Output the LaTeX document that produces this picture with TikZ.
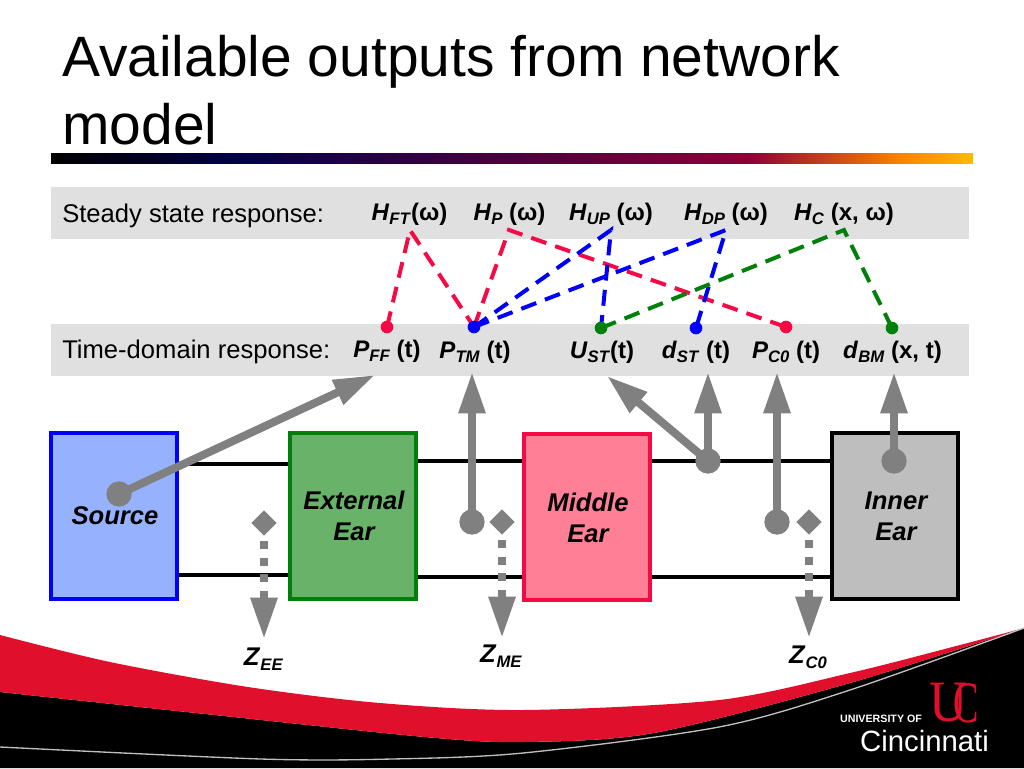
\documentclass[tikz,border=0pt]{standalone}
\usepackage{fontspec}
\setmainfont{Liberation Sans}
\newfontfamily\logofont{Liberation Serif}
\usetikzlibrary{
	arrows.meta,
	positioning,
	shapes.geometric,
	calc
}
\pgfdeclarelayer{base}
\pgfdeclarelayer{links}
\pgfsetlayers{base,links,main}
\definecolor{ucred}{RGB}{224,16,44}
\definecolor{bandgray}{RGB}{224,224,224}
\definecolor{linkred}{RGB}{245,10,70}
\definecolor{linkblue}{RGB}{0,0,250}
\definecolor{linkgreen}{RGB}{0,128,10}
\definecolor{probegray}{RGB}{128,128,128}
\definecolor{barnavy}{RGB}{0,0,70}
\definecolor{barmaroon}{RGB}{140,0,55}
\definecolor{barorange}{RGB}{250,130,0}
\definecolor{baryellow}{RGB}{255,185,0}
\newcommand{\qtysym}[2]{\textit{#1}\raisebox{-0.2em}{\fontsize{12.5}{14}\selectfont\textit{#2}}}

\begin{document}
\begin{tikzpicture}[
			x=0.75pt, y=-0.75pt,
			font=\fontsize{18}{22}\selectfont\bfseries,
			>=Stealth,
			band/.style={fill=bandgray, draw=none, minimum width=688.5pt, minimum height=39pt, inner sep=0pt},
			bandtext/.style={font=\fontsize{19.2}{22}\selectfont, anchor=west, inner sep=0pt},
			ear/.style={line width=3pt, minimum width=94.5pt, minimum height=124.5pt, inner sep=0pt},
			eartext/.style={align=center, inner sep=0pt, font=\fontsize{19.2}{23.5}\selectfont\bfseries\itshape},
			lab/.style={inner sep=0pt, anchor=base},
			zlab/.style={inner sep=0pt, anchor=base, font=\fontsize{19.2}{23}\selectfont\bfseries},
			endpt/.style={circle, inner sep=0pt, minimum size=9.5pt},
			conn/.style={line width=3pt, dash pattern=on 12pt off 7pt},
			tapdot/.style={circle, fill=probegray, inner sep=0pt, minimum size=19pt},
			tap/.style={line width=6pt, draw=probegray, -{Triangle[length=31pt, width=19pt]}},
			portmark/.style={diamond, fill=probegray, inner sep=0pt, minimum size=19pt},
			port/.style={line width=6pt, draw=probegray, dash pattern=on 6pt off 6.4pt, dash phase=8.4pt, -{Triangle[length=31pt, width=19pt]}},
			wire/.style={line width=3pt}
		]
		\useasboundingbox (0,0) rectangle (1024,768);

		% footer
		\fill[black] (0,692) -- plot[smooth] coordinates {(0,692) (196,713) (425,737) (523,742) (654,733) (850,683) (1024,628)} -- (1024,768) -- (0,768) -- cycle;
		\fill[ucred] plot[smooth] coordinates {(0,635) (110,662) (248,687) (380,703) (523,710) (719,700) (850,673) (960,645) (1024,628)} -- plot[smooth] coordinates {(1024,628) (850,683) (654,733) (523,742) (425,737) (196,713) (0,692)} -- cycle;
		\draw[white!75!black, line width=1pt] plot[smooth] coordinates {(0,747) (261,759) (392,759) (523,753) (719,727) (850,690) (1024,628)};

		% title
		\node[anchor=west, inner sep=0pt, align=left, font=\fontsize{42.7}{51}\selectfont] (title) at (62,90) {Available outputs from network\\model};
		\shade[left color=black, right color=barnavy] (51,153) rectangle (238,163);
		\shade[left color=barnavy, right color=barmaroon] (237.5,153) rectangle (748,163);
		\shade[left color=barmaroon, right color=barorange] (747.5,153) rectangle (900,163);
		\shade[left color=barorange, right color=baryellow] (899.5,153) rectangle (973,163);

		% bands
		\begin{pgfonlayer}{base}
			\node[band] (steady) at (510,213) {};
			\node[band] (timedom) at (510,350) {};
		\end{pgfonlayer}
		\node[bandtext] (steadytxt) at (62,216) {Steady state response:};
		\node[bandtext] (timetxt) at (62,352) {Time-domain response:};

		\node[lab] (hft) at (409.5,220) {\qtysym{H}{FT}(ω)};
		\node[lab] (hp) at (509.5,220) {\qtysym{H}{P} (ω)};
		\node[lab] (hup) at (611,220) {\qtysym{H}{UP} (ω)};
		\node[lab] (hdp) at (726,220) {\qtysym{H}{DP} (ω)};
		\node[lab] (hc) at (844,220) {\qtysym{H}{C} (x, ω)};
		\node[lab] (pff) at (387,357) {\qtysym{P}{FF} (t)};
		\node[lab] (ptm) at (475,358) {\qtysym{P}{TM} (t)};
		\node[lab] (ust) at (602,358) {\qtysym{U}{ST}(t)};
		\node[lab] (dst) at (696,358) {\qtysym{d}{ST} (t)};
		\node[lab] (pco) at (786,358) {\qtysym{P}{C0} (t)};
		\node[lab] (dbm) at (892.5,358) {\qtysym{d}{BM} (x, t)};

		\coordinate (apft) at (410,230);
		\coordinate (app) at (509,230);
		\coordinate (apup) at (611,230);
		\coordinate (apdp) at (726,230);
		\coordinate (apc) at (844,230);
		\node[endpt, fill=linkred] (epff) at (387,327) {};
		\node[endpt, fill=linkblue] (eptm) at (474,327) {};
		\node[endpt, fill=linkgreen] (eust) at (601,328) {};
		\node[endpt, fill=linkblue] (edst) at (696,328) {};
		\node[endpt, fill=linkred] (epco) at (786,327) {};
		\node[endpt, fill=linkgreen] (edbm) at (892,328) {};

		\begin{pgfonlayer}{links}
			\draw[conn, linkred] (epff.center) -- (apft) -- (eptm.center);
			\draw[conn, linkred] (eptm.center) -- (app) -- (epco.center);
			\draw[conn, linkblue] (eptm.center) -- (apup) -- (eust.center);
			\draw[conn, linkblue] (eptm.center) -- (apdp) -- (edst.center);
			\draw[conn, linkgreen] (eust.center) -- (apc) -- (edbm.center);
		\end{pgfonlayer}

		% ears
		\node[ear, draw=linkblue, fill={rgb,255:red,150;green,178;blue,255}] (source) at (114,516) {};
		\node[ear, draw=linkgreen, fill={rgb,255:red,105;green,178;blue,105}] (external) at (352.5,516) {};
		\node[ear, draw=linkred, fill={rgb,255:red,255;green,128;blue,150}] (middle) at (586.5,517) {};
		\node[ear, draw=black, fill={rgb,255:red,190;green,190;blue,190}] (inner) at (895,516) {};
		\node[eartext] (sourcetxt) at (115,516) {Source};
		\node[eartext] (externaltxt) at (354,516) {External\\Ear};
		\node[eartext] (middletxt) at (588,518) {Middle\\Ear};
		\node[eartext] (innertxt) at (896,516) {Inner\\Ear};

		% wires
		\begin{pgfonlayer}{links}
			\draw[wire] (source.east |- 0,464) -- (external.west |- 0,464);
			\draw[wire] (source.east |- 0,575) -- (external.west |- 0,575);
			\draw[wire] (external.east |- 0,461) -- (middle.west |- 0,461);
			\draw[wire] (external.east |- 0,577) -- (middle.west |- 0,577);
			\draw[wire] (middle.east |- 0,461) -- (inner.west |- 0,461);
			\draw[wire] (middle.east |- 0,577) -- (inner.west |- 0,577);
		\end{pgfonlayer}

		% probes
		\node[tapdot] (tsrc) at (119,494) {};
		\node[tapdot] (ttm) at (472,522) {};
		\node[tapdot] (tst) at (708,461) {};
		\node[tapdot] (tco) at (777,522) {};
		\node[tapdot] (tbm) at (894,461) {};
		\coordinate (hsrc) at (375,375);
		\coordinate (htm) at (472,372);
		\coordinate (hus) at (607,376);
		\coordinate (hst) at (708,372);
		\coordinate (hco) at (777,372);
		\coordinate (hbm) at (894,372);
		\draw[tap] (tsrc.center) -- (hsrc);
		\draw[tap] (ttm.center) -- (htm);
		\draw[tap] (tst.center) -- (hus);
		\draw[tap] (tst.center) -- (hst);
		\draw[tap] (tco.center) -- (hco);
		\draw[tap] (tbm.center) -- (hbm);

		% impedance ports
		\node[portmark] (mee) at (264,523) {};
		\node[portmark] (mme) at (502,522) {};
		\node[portmark] (mco) at (809,522) {};
		\coordinate (aee) at (264,639);
		\coordinate (ame) at (502,638);
		\coordinate (aco) at (809,638);
		\draw[port] (mee.south) -- (aee);
		\draw[port] (mme.south) -- (ame);
		\draw[port] (mco.south) -- (aco);
		\node[zlab] (zee) at (263.5,665) {\qtysym{Z}{EE}};
		\node[zlab] (zme) at (501,662) {\qtysym{Z}{ME}};
		\node[zlab] (zco) at (808,663) {\qtysym{Z}{C0}};

		% logo
		\node[inner sep=0pt, text=ucred, font=\fontsize{44}{44}\selectfont\logofont, xscale=0.9, transform shape] (logou) at (949,703) {U};
		\node[inner sep=0pt, text=ucred, font=\fontsize{44}{44}\selectfont\logofont, xscale=0.65, transform shape] (logoc) at (966,703) {C};
		\node[inner sep=0pt, text=white, font=\fontsize{8}{9}\selectfont\bfseries] (logouni) at (881,719) {UNIVERSITY OF};
		\node[inner sep=0pt, text=white, font=\fontsize{22}{24}\selectfont\mdseries] (logocin) at (924.5,741) {Cincinnati};
	\end{tikzpicture}
\end{document}
